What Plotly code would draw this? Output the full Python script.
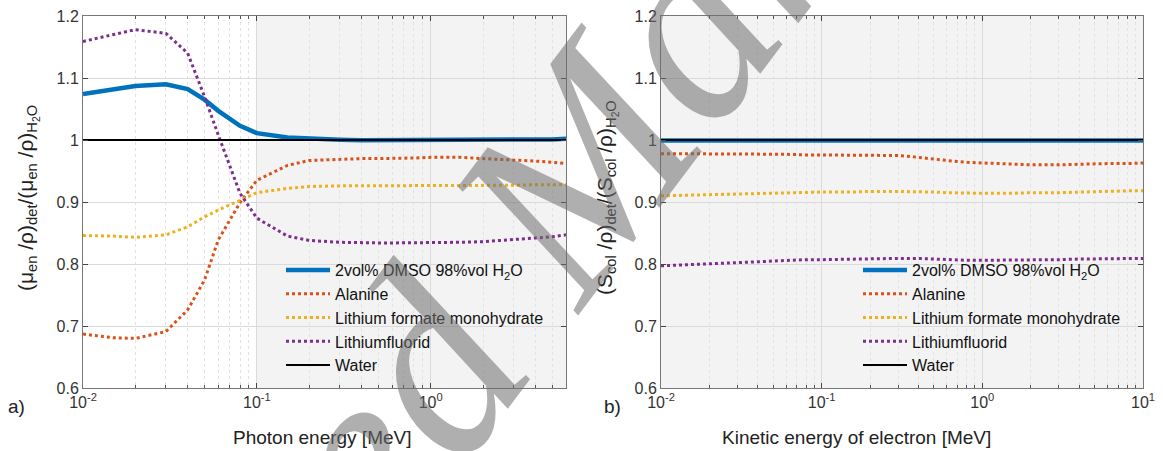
import plotly.graph_objects as go
import math

# ---------------- data ----------------
E_photon = [0.01, 0.015, 0.02, 0.03, 0.04, 0.05, 0.06, 0.08, 0.1, 0.15, 0.2, 0.3, 0.4, 0.5,
            0.6, 0.8, 1.0, 1.25, 1.5, 2.0, 3.0, 4.0, 5.0, 6.0]
dmso_ph = [1.074, 1.081, 1.087, 1.090, 1.082, 1.065, 1.047, 1.023, 1.011, 1.004, 1.002, 1.0005,
           0.9995, 0.9995, 0.9995, 0.9995, 0.9995, 0.9995, 0.9995, 0.9995, 0.9998, 1.000, 1.001, 1.002]
alanine_ph = [0.687, 0.681, 0.680, 0.691, 0.726, 0.774, 0.839, 0.899, 0.935, 0.959, 0.967, 0.969,
              0.970, 0.970, 0.970, 0.971, 0.972, 0.972, 0.972, 0.970, 0.968, 0.966, 0.964, 0.962]
lfm_ph = [0.846, 0.845, 0.843, 0.847, 0.860, 0.876, 0.887, 0.903, 0.915, 0.922, 0.925, 0.926,
          0.926, 0.926, 0.926, 0.926, 0.927, 0.927, 0.927, 0.927, 0.927, 0.928, 0.928, 0.928]
lif_ph = [1.159, 1.170, 1.178, 1.172, 1.140, 1.070, 1.008, 0.914, 0.874, 0.845, 0.838, 0.835,
          0.834, 0.834, 0.834, 0.834, 0.834, 0.834, 0.835, 0.836, 0.839, 0.842, 0.844, 0.847]
water_ph = [1.0] * len(E_photon)

E_el = [0.01, 0.015, 0.02, 0.03, 0.04, 0.05, 0.06, 0.08, 0.1, 0.15, 0.2, 0.3, 0.4, 0.5, 0.6,
        0.8, 1.0, 1.5, 2.0, 3.0, 4.0, 5.0, 6.0, 8.0, 10.0]
dmso_el = [0.9993] * len(E_el)
alanine_el = [0.978, 0.978, 0.977, 0.977, 0.977, 0.977, 0.977, 0.976, 0.976, 0.976, 0.976, 0.975,
              0.972, 0.969, 0.967, 0.964, 0.963, 0.961, 0.960, 0.960, 0.961, 0.961, 0.962, 0.962, 0.963]
lfm_el = [0.910, 0.911, 0.912, 0.913, 0.914, 0.914, 0.915, 0.915, 0.916, 0.916, 0.917, 0.917,
          0.917, 0.916, 0.915, 0.914, 0.914, 0.914, 0.915, 0.915, 0.916, 0.917, 0.917, 0.918, 0.918]
lif_el = [0.797, 0.799, 0.801, 0.803, 0.804, 0.805, 0.806, 0.807, 0.807, 0.808, 0.808, 0.809,
          0.809, 0.808, 0.807, 0.806, 0.806, 0.806, 0.807, 0.807, 0.808, 0.808, 0.808, 0.809, 0.809]
water_el = [1.0] * len(E_el)

series_names = ["2vol% DMSO 98%vol H<sub>2</sub>O", "Alanine", "Lithium formate monohydrate",
                "Lithiumfluorid", "Water"]

y_tickvals = [0.6, 0.7, 0.8, 0.9, 1.0, 1.1, 1.2]
y_ticktext = ["0.6", "0.7", "0.8", "0.9", "1", "1.1", "1.2"]
x1_tickvals = [0.01, 0.1, 1]
x1_ticktext = ["10<sup>-2</sup>", "10<sup>-1</sup>", "10<sup>0</sup>"]
x2_tickvals = [0.01, 0.1, 1, 10]
x2_ticktext = ["10<sup>-2</sup>", "10<sup>-1</sup>", "10<sup>0</sup>", "10<sup>1</sup>"]

# ---------------- styles ----------------
colors = ["#0072BD", "#D95319", "#EDB120", "#7E2F8E", "#000000"]
widths = [4.5, 3, 3, 3, 2]
dashes = ["solid", "dot", "dot", "dot", "solid"]
FONT = "Liberation Sans, Arial, sans-serif"
W, H = 1163, 451
ML, MR, MT, MB = 0, 0, 16, 63
PH = H - MT - MB

def px_x(p):
    return p / W

def px_y(p):
    return (H - MB - p) / PH

fig = go.Figure()

sets = [
    (E_photon, [dmso_ph, alanine_ph, lfm_ph, lif_ph, water_ph], "x", "y", "legend"),
    (E_el, [dmso_el, alanine_el, lfm_el, lif_el, water_el], "x2", "y2", "legend2"),
]
for xs, ys_list, xa, ya, lg in sets:
    for i, ys in enumerate(ys_list):
        fig.add_trace(go.Scatter(
            x=xs, y=ys, mode="lines", name=series_names[i],
            line=dict(color=colors[i], width=widths[i], dash=dashes[i]),
            xaxis=xa, yaxis=ya, legend=lg, showlegend=True,
        ))

minor_vals = [m * 10 ** k for k in (-2, -1, 0) for m in range(2, 10)]

def xaxis_common(rng, tv, tt, dom):
    return dict(
        type="log", range=rng, domain=dom, tickvals=tv, ticktext=tt, automargin=False,
        ticks="inside", ticklen=5, tickcolor="#444", mirror="ticks", showline=True,
        linecolor="#777", linewidth=1, showgrid=True, gridcolor="#dadada", gridwidth=1,
        zeroline=False, tickfont=dict(family=FONT, size=16, color="#333"),
        minor=dict(tickvals=minor_vals, ticks="inside", ticklen=3, tickcolor="#555",
                   showgrid=True, gridcolor="#e2e2e2", griddash="dot", gridwidth=1),
    )

def yaxis_common(anchor):
    return dict(
        range=[0.6, 1.2], tickvals=y_tickvals, ticktext=y_ticktext, anchor=anchor,
        automargin=False,
        ticks="inside", ticklen=5, tickcolor="#444", mirror="ticks", showline=True,
        linecolor="#777", linewidth=1, showgrid=True, gridcolor="#dadada", zeroline=False,
        tickfont=dict(family=FONT, size=16, color="#333"), domain=[0, 1],
    )

x1dom = [px_x(83), px_x(566)]
x2dom = [px_x(661), px_x(1143)]

fig.update_layout(
    width=W, height=H,
    margin=dict(l=ML, r=MR, t=MT, b=MB, autoexpand=False),
    paper_bgcolor="white", plot_bgcolor="white",
    xaxis=xaxis_common([-2, math.log10(6)], x1_tickvals, x1_ticktext, x1dom) | dict(anchor="y"),
    yaxis=yaxis_common("x"),
    xaxis2=xaxis_common([-2, 1], x2_tickvals, x2_ticktext, x2dom) | dict(anchor="y2"),
    yaxis2=yaxis_common("x2"),
    legend=dict(x=px_x(281), y=px_y(253), xanchor="left", yanchor="top",
                bgcolor="rgba(0,0,0,0)", borderwidth=0, itemwidth=44,
                font=dict(family=FONT, size=16, color="#111"), tracegroupgap=0),
    legend2=dict(x=px_x(858), y=px_y(253), xanchor="left", yanchor="top",
                 bgcolor="rgba(0,0,0,0)", borderwidth=0, itemwidth=44,
                 font=dict(family=FONT, size=16, color="#111"), tracegroupgap=0),
    showlegend=True,
)

# shaded regions
fig.add_shape(type="rect", xref="x", yref="y domain", x0=0.1, x1=6, y0=0, y1=1,
              fillcolor="#f3f3f3", line=dict(width=0), layer="below")
fig.add_shape(type="rect", xref="x2", yref="y2 domain", x0=0.01, x1=10, y0=0, y1=1,
              fillcolor="#f3f3f3", line=dict(width=0), layer="below")

# titles and panel labels
ann_font = dict(family=FONT, size=19, color="#222")
def label(text, x, y, font, angle=0):
    fig.add_annotation(text=text, xref="paper", yref="paper", x=px_x(x), y=px_y(y),
                       xanchor="center", yanchor="middle", textangle=angle,
                       showarrow=False, font=font)

label("Photon energy [MeV]", 322, 437, ann_font)
label("Kinetic energy of electron [MeV]", 856, 437, ann_font)
label("a)", 16, 406, ann_font)
label("b)", 612, 406, ann_font)
ytitle_font = dict(family=FONT, size=21, color="#222")
label("(μ<sub>en</sub> /ρ)<sub>det</sub>/(μ<sub>en</sub> /ρ)<sub>H<sub>2</sub>O</sub>",
      28, 198, ytitle_font, -90)
label("(S<sub>col</sub> /ρ)<sub>det</sub>/(S<sub>col</sub> /ρ)<sub>H<sub>2</sub>O</sub>",
      607, 198, ytitle_font, -90)

# watermark
label("Accepted Manuscript", 562, 189,
      dict(family="Liberation Serif, Times New Roman, serif", size=265, style="italic",
           color="rgba(110,110,110,0.55)"), -53)

fig.write_html("out.html", config={"displayModeBar": False},
               post_script="document.body.style.margin='0px';")
